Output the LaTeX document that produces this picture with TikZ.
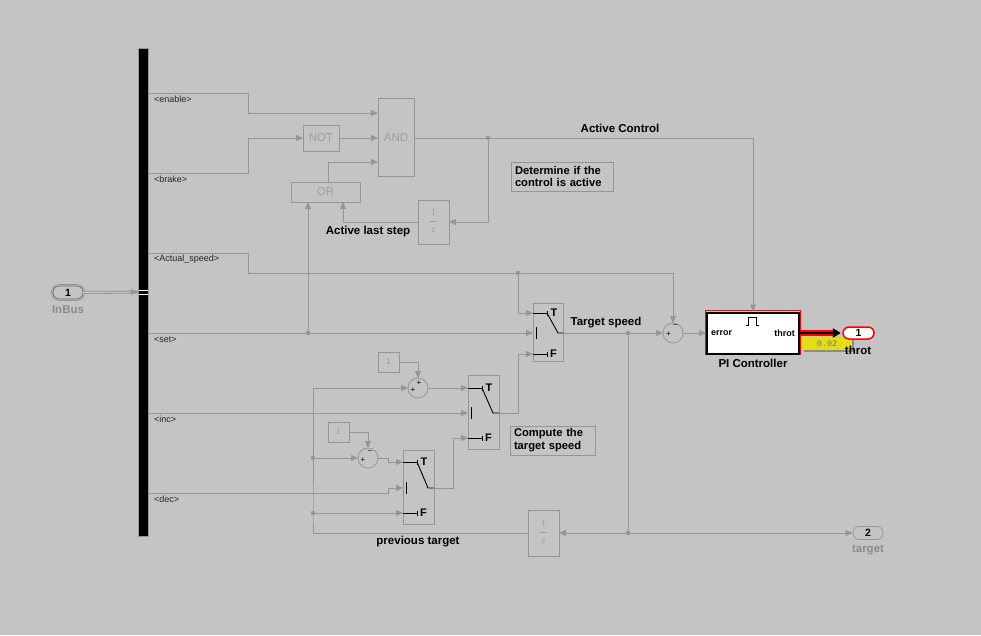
\documentclass[tikz,border=0pt]{standalone}
\usepackage{fontspec}
\setmainfont{Liberation Sans}
\setmonofont{Liberation Mono}
\newfontfamily\zserif{Liberation Serif}
\usetikzlibrary{arrows.meta}
\definecolor{bgc}{RGB}{196,196,196}
\definecolor{wirec}{RGB}{150,150,150}
\definecolor{blkc}{RGB}{158,158,158}
\definecolor{lblgray}{RGB}{140,140,140}
\definecolor{anncol}{RGB}{228,222,20}
\newcommand{\swglyph}[5]{%
  \draw[swl] (#1,#2) -- (#1+14,#2);
  \draw[swl] (#1+14,#2-2.5) -- (#1+14,#2+2.5);
  \draw[swl] (#1+14,#2) -- (#1+25,#3) -- (#1+#5,#3);
  \draw[swl] (#1+3,#3-6) -- (#1+3,#3+6);
  \draw[swl] (#1,#4) -- (#1+14,#4);
  \draw[swl] (#1+14,#4-2.5) -- (#1+14,#4+2.5);
  \node[swt,anchor=west] at (#1+17.5,#2) {T};
  \node[swt,anchor=west] at (#1+17,#4) {F};
}
\newcommand{\dlyglyph}[2]{%
  \node[zt] at (#1,#2-10) {1};
  \draw[blkc,line width=0.7pt] (#1-3.5,#2-0.5) -- (#1+3.5,#2-0.5);
  \node[zt] at (#1,#2+8.5) {\itshape z};
}
\begin{document}
\begin{tikzpicture}[x=1pt,y=-1pt,
  wire/.style={draw=wirec,line width=0.8pt},
  arr/.style={wire,-{Triangle[length=7pt,width=6pt]}},
  blk/.style={draw=wirec,line width=0.8pt,inner sep=0pt,outer sep=0pt,text=blkc,font=\fontsize{11.5}{13}\selectfont},
  sumc/.style={blk,circle,minimum size=20pt},
  cst/.style={blk,minimum width=21pt,minimum height=20pt,font=\fontsize{8.5}{9}\selectfont},
  dly/.style={blk,minimum width=31pt},
  zt/.style={inner sep=0pt,text=blkc,font=\zserif\fontsize{10}{10}\selectfont},
  dotj/.style={circle,fill=wirec,inner sep=0pt,minimum size=4.5pt},
  buslbl/.style={anchor=west,inner sep=0pt,font=\fontsize{9}{10}\selectfont,text=black!85},
  blbl/.style={inner sep=0pt,font=\bfseries\fontsize{11.5}{13}\selectfont},
  glbl/.style={blbl,text=lblgray},
  sgn/.style={inner sep=0pt,font=\fontsize{8}{8}\selectfont},
  swl/.style={black,line width=0.9pt},
  swt/.style={inner sep=0pt,font=\bfseries\fontsize{11}{12}\selectfont},
  ann/.style={draw=wirec,line width=0.8pt,align=left,inner xsep=4pt,inner ysep=2.5pt,font=\bfseries\fontsize{11.2}{12.8}\selectfont}]
\useasboundingbox (0,0) rectangle (981,635);
\fill[bgc] (0,0) rectangle (981,635);

% ---------------- bus selector & inport
\node[fill=black,draw=wirec,line width=0.8pt,minimum width=10pt,minimum height=488pt,inner sep=0pt] (bus) at (143,292) {};
\node[draw=black!60,line width=0.8pt,rounded corners=6pt,minimum width=30pt,minimum height=13pt,inner sep=0pt,font=\bfseries\fontsize{10.5}{11}\selectfont] (in1) at (68,292.5) {1};
\draw[wirec,line width=0.6pt,rounded corners=7pt] (51.5,284.5) rectangle (84.5,300.5);
\node[glbl] (lInBus) at (68,310) {InBus};
\draw[wirec,line width=3pt] (in1.east) -- (bus.west);
\draw[white,line width=1pt,dash pattern=on 1pt off 1pt] (in1.east) -- ([xshift=-7pt]bus.west);
\draw[arr] ([xshift=-8pt]bus.west) -- (bus.west);
\draw[white,line width=0.9pt] (138.5,290.5) -- (147.5,290.5);
\draw[white,line width=0.9pt] (138.5,294.5) -- (147.5,294.5);

% bus outputs
\coordinate (bEn) at (148,93);   \coordinate (kEn) at (248,93);
\coordinate (bBr) at (148,173);  \coordinate (kBr) at (248,173);
\coordinate (bAS) at (148,253);  \coordinate (kAS) at (248,253);
\coordinate (bSet) at (148,333);
\coordinate (bInc) at (148,413);
\coordinate (bDec) at (148,493);
\node[buslbl] (lEn) at (154,99.5) {<enable>};
\node[buslbl] (lBr) at (154,179.5) {<brake>};
\node[buslbl] (lAS) at (154,259.5) {<Actual\_speed>};
\node[buslbl] (lSet) at (154,339.5) {<set>};
\node[buslbl] (lInc) at (154,419.5) {<inc>};
\node[buslbl] (lDec) at (154,499.5) {<dec>};

% ---------------- logic blocks
\node[blk,minimum width=36pt,minimum height=26pt] (not) at (321,138) {NOT};
\node[blk,minimum width=36pt,minimum height=78pt] (and) at (396,137.5) {AND};
\node[blk,minimum width=69pt,minimum height=20pt] (or) at (325.5,192) {OR};
\node[dly,minimum height=44pt] (d1) at (433.5,222) {};
\dlyglyph{433.5}{222}
\coordinate (andI1) at (378,113);
\coordinate (andI2) at (378,138);
\coordinate (andI3) at (378,162);
\coordinate (andO) at (414,138);
\coordinate (orO) at (328,182);
\coordinate (orI1) at (308,202);
\coordinate (orI2) at (343,202);
\coordinate (j1) at (488,138);
\coordinate (kAC) at (753,138);
\coordinate (j2) at (308,333);

% ---------------- switches, sums, constants
\node[blk,minimum width=30pt,minimum height=58pt] (sw1) at (548,332) {};
\node[blk,minimum width=31pt,minimum height=74pt] (sw2) at (483.5,412) {};
\node[blk,minimum width=31pt,minimum height=74pt] (sw3) at (418.5,487) {};
\swglyph{533}{313}{333}{354}{30}
\swglyph{468}{388}{413}{438}{31}
\swglyph{403}{462}{488}{513}{31}
\node[sumc] (s1) at (673,333) {};
\node[sumc] (s2) at (418,388) {};
\node[sumc] (s3) at (368,458) {};
\node[sgn] at (668.5,334.5) {+};
\node[sgn] at (675.5,326.5) {−};
\node[sgn] at (413,390) {+};
\node[sgn] at (419,383) {+};
\node[sgn] at (363,460.5) {+};
\node[sgn] at (370,452.5) {−};
\node[cst] (c1) at (388.5,362) {1};
\node[cst] (c2) at (338.5,432) {1};
\node[dly,minimum height=46pt] (d2) at (543.5,533) {};
\dlyglyph{543.5}{533}

\coordinate (sw1T) at (533,313); \coordinate (sw1C) at (533,333); \coordinate (sw1F) at (533,354); \coordinate (sw1O) at (563,333);
\coordinate (sw2T) at (468,388); \coordinate (sw2C) at (468,413); \coordinate (sw2F) at (468,438); \coordinate (sw2O) at (499,413);
\coordinate (sw3T) at (403,462); \coordinate (sw3C) at (403,488); \coordinate (sw3F) at (403,513); \coordinate (sw3O) at (434,488);
\coordinate (j3) at (518,273);
\coordinate (j4) at (628,333);
\coordinate (j5) at (628,533);
\coordinate (j6) at (313,458);
\coordinate (j7) at (313,513);
\coordinate (k313) at (313,533);
\coordinate (k518) at (518,413);
\coordinate (k453) at (453,488);
\coordinate (k388a) at (388,458);
\coordinate (k388b) at (388,493);

% ---------------- PI controller and outports
\draw[red,line width=1.3pt] (705.2,310.2) rectangle (800.8,354.8);
\node[draw=black,line width=2pt,fill=white,minimum width=92pt,minimum height=41pt,inner sep=0pt] (pi) at (753,333) {};
\node[inner sep=0pt,anchor=west,font=\bfseries\fontsize{9}{10}\selectfont] (piE) at (711,333.5) {error};
\node[inner sep=0pt,anchor=east,font=\bfseries\fontsize{9}{10}\selectfont] (piT) at (795,333.5) {throt};
\draw[black,line width=0.8pt] (746,325) -- (748.5,325) -- (748.5,317) -- (756.5,317) -- (756.5,325) -- (759,325);
\node[blbl] (lPI) at (753,363) {PI Controller};
\fill[black!45] (804,339) rectangle (854,352);
\node[fill=anncol,minimum width=50pt,minimum height=13pt,inner sep=0pt,font=\ttfamily\fontsize{8.5}{9}\selectfont,text=black!55] (st) at (827,343.5) {0.02};
\node[draw=red,line width=1.5pt,fill=white,rounded corners=6pt,minimum width=31pt,minimum height=12pt,inner sep=0pt,font=\bfseries\fontsize{10.5}{11}\selectfont] (o1) at (858.5,333) {1};
\node[blbl] (lThrot) at (858,350) {throt};
\node[draw=wirec,line width=0.8pt,rounded corners=6pt,minimum width=30pt,minimum height=13pt,inner sep=0pt,font=\bfseries\fontsize{10.5}{11}\selectfont] (o2) at (868,533) {2};
\node[glbl] (lTarget) at (868,550) {target};

% ---------------- wires
\draw[arr] (bEn) -- (kEn) |- (andI1);
\draw[arr] (bBr) -- (kBr) |- (not.west);
\draw[arr] (not.east) -- (andI2);
\draw[arr] (orO) |- (andI3);
\draw[wire] (andO) -- (j1);
\draw[arr] (j1) -- (kAC) -- (pi.north);
\draw[arr] (j1) |- (d1.east);
\draw[arr] (d1.west) -| (orI2);
\draw[arr] (j2) -- (orI1);
\draw[wire] (bSet) -- (j2);
\draw[arr] (j2) -- (sw1C);
\draw[wire] (bAS) -- (kAS) |- (j3);
\draw[arr] (j3) -| (s1.north);
\draw[arr] (j3) |- (sw1T);
\draw[wire] (sw1O) -- (j4);
\draw[arr] (j4) -- (s1.west);
\draw[arr] (s1.east) -- (pi.west);
\draw[wire] (j4) -- (j5);
\draw[arr] (j5) -- (d2.east);
\draw[arr] (j5) -- (o2.west);
\draw[wire] (d2.west) -- (k313) -- (j7) -- (j6);
\draw[arr] (j6) |- (s2.west);
\draw[arr] (j6) -- (s3.west);
\draw[arr] (j7) -- (sw3F);
\draw[arr] (c1.east) -| (s2.north);
\draw[arr] (s2.east) -- (sw2T);
\draw[arr] (bInc) -- (sw2C);
\draw[arr] (sw2O) -- (k518) |- (sw1F);
\draw[arr] (c2.east) -| (s3.north);
\draw[arr] (s3.east) -- (k388a) |- (sw3T);
\draw[arr] (bDec) -- (k388b) |- (sw3C);
\draw[arr] (sw3O) -- (k453) |- (sw2F);
\draw[red,line width=5.5pt,-{Triangle[length=6pt,width=7pt]},shorten >=2pt] (pi.east) -- (o1.west);
\draw[black,line width=2pt,-{Triangle[length=8pt,width=9pt]},shorten >=1.5pt] (pi.east) -- (o1.west);

\foreach \j in {j1,j2,j3,j4,j5,j6,j7} \node[dotj] at (\j) {};

% ---------------- labels & annotations
\node[blbl] (lAC) at (620,128) {Active Control};
\node[blbl] (lALS) at (368,232) {Active last step};
\node[blbl] (lTS) at (606,323) {Target speed};
\node[blbl] (lPT) at (418,542) {previous target};
\node[ann,text width=94pt,minimum height=29pt] (aDet) at (562,176.5) {Determine if the\\control is active};
\node[ann,text width=77pt,minimum height=29pt] (aComp) at (552.5,440.5) {Compute the\\target speed};
\end{tikzpicture}
\end{document}
